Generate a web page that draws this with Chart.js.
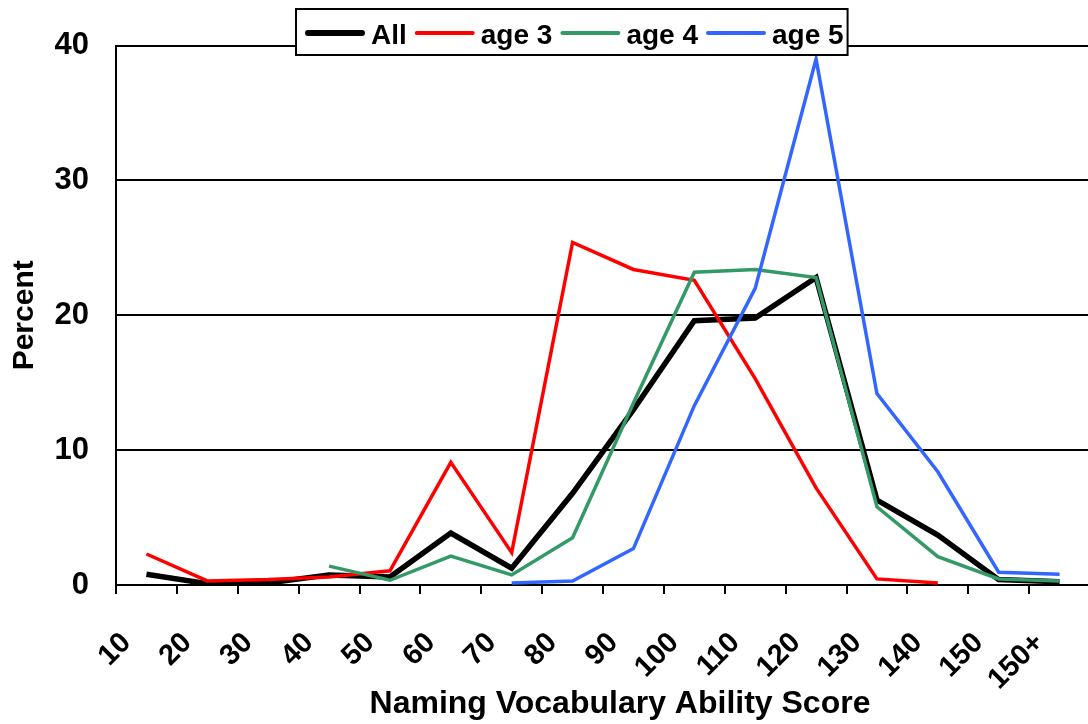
<!DOCTYPE html>
<html>
<head>
<meta charset="utf-8">
<script src="https://cdn.jsdelivr.net/npm/chart.js@4"></script>
<style>
  html, body { margin: 0; padding: 0; background: #fff; overflow: hidden; }
  #wrap { width: 1092px; height: 724px; position: relative; }
</style>
</head>
<body>
<div id="wrap"><canvas id="c"></canvas></div>
<script>
const categories = ["10","20","30","40","50","60","70","80","90","100","110","120","130","140","150","150+"];
const seriesNames = ["All","age 3","age 4","age 5"];
const allValues  = [0.8, 0.1, 0.15, 0.75, 0.6, 3.85, 1.25, 6.8, 13.0, 19.6, 19.8, 22.8, 6.3, 3.7, 0.4, 0.25];
const age3Values = [2.3, 0.3, 0.4, 0.6, 1.05, 9.1, 2.4, 25.4, 23.4, 22.6, 15.3, 7.2, 0.45, 0.15, null, null];
const age4Values = [null, null, null, 1.4, 0.35, 2.15, 0.75, 3.5, 13.5, 23.2, 23.4, 22.8, 5.8, 2.1, 0.45, 0.3];
const age5Values = [null, null, null, null, null, null, 0.15, 0.3, 2.7, 13.3, 22.0, 39.0, 14.2, 8.4, 0.95, 0.8];
const yTicks = [0, 10, 20, 30, 40];
const xTitle = 'Naming Vocabulary Ability Score';
const yTitle = 'Percent';

const FONT = "'Liberation Sans', Arial, sans-serif";

const legendPlugin = {
  id: 'boxLegend',
  afterDraw(chart) {
    const ctx = chart.ctx;
    const ds = chart.data.datasets;
    ctx.save();
    ctx.font = "bold 28px " + FONT;
    const startX = 305, lineLen = 60, textGap = 6, itemGap = 8, cy = 33, baseY = 44;
    let x = startX;
    const items = [];
    ds.forEach((d) => {
      const w = ctx.measureText(d.label).width;
      items.push({ x, w, d });
      x = x + lineLen + textGap + w + itemGap;
    });
    const last = items[items.length - 1];
    const boxL = 296, boxR = last.x + lineLen + textGap + last.w + 4, boxT = 9, boxB = 55;
    ctx.fillStyle = '#ffffff';
    ctx.fillRect(boxL, boxT, boxR - boxL, boxB - boxT);
    ctx.strokeStyle = '#000';
    ctx.lineWidth = 2;
    ctx.strokeRect(boxL, boxT, boxR - boxL, boxB - boxT);
    items.forEach(it => {
      const lw = it.d.borderWidth + 0.5;
      ctx.beginPath();
      ctx.lineCap = 'round';
      ctx.strokeStyle = it.d.borderColor;
      ctx.lineWidth = lw;
      ctx.moveTo(it.x + lw / 2, cy);
      ctx.lineTo(it.x + lineLen - lw / 2, cy);
      ctx.stroke();
      ctx.fillStyle = '#000';
      ctx.textBaseline = 'alphabetic';
      ctx.textAlign = 'left';
      ctx.fillText(it.d.label, it.x + lineLen + textGap, baseY);
    });
    // x axis title
    ctx.font = "bold 32px " + FONT;
    ctx.textAlign = 'center';
    ctx.fillText(xTitle, 620, 713);
    ctx.restore();
  }
};

new Chart(document.getElementById('c'), {
  type: 'line',
  data: {
    labels: categories,
    datasets: [
      { label: seriesNames[0], data: allValues,  borderColor: '#000000', borderWidth: 5.5, order: 4 },
      { label: seriesNames[1], data: age3Values, borderColor: '#ff0000', borderWidth: 3.5, order: 3 },
      { label: seriesNames[2], data: age4Values, borderColor: '#339966', borderWidth: 3.5, order: 2 },
      { label: seriesNames[3], data: age5Values, borderColor: '#3366ff', borderWidth: 3.5, order: 1 }
    ]
  },
  options: {
    responsive: true,
    maintainAspectRatio: false,
    animation: false,
    devicePixelRatio: 1,
    elements: { point: { radius: 0, hoverRadius: 0 }, line: { tension: 0, fill: false } },
    spanGaps: false,
    layout: { padding: { left: 0, right: 2, top: 44, bottom: 0 } },
    plugins: { legend: { display: false }, tooltip: { enabled: false }, title: { display: false } },
    scales: {
      x: {
        type: 'category',
        offset: true,
        afterFit(scale) { scale.height = 139; scale.paddingLeft = 0; scale.paddingRight = 0; },
        grid: { display: true, drawOnChartArea: false, drawTicks: true, tickLength: 9, offset: true, color: '#000', lineWidth: 2 },
        border: { display: true, color: '#000', width: 2 },
        ticks: {
          autoSkip: false, minRotation: 45, maxRotation: 45, padding: 32, labelOffset: -20,
          color: '#000', font: { family: FONT, size: 29, weight: 'bold' }
        },
        title: { display: false }
      },
      y: {
        min: 0, max: 40,
        afterFit(scale) { scale.width = 116; },
        afterBuildTicks(scale) { scale.ticks = yTicks.map(v => ({ value: v })); },
        grid: { color: '#000', lineWidth: 2, drawTicks: false },
        border: { display: true, color: '#000', width: 2 },
        ticks: { padding: 27, color: '#000', font: { family: FONT, size: 31, weight: 'bold' } },
        title: {
          display: true, text: yTitle, color: '#000',
          font: { family: FONT, size: 30, weight: 'bold' }, padding: { top: 7, bottom: 0 }
        }
      }
    }
  },
  plugins: [legendPlugin]
});
</script>
</body>
</html>
